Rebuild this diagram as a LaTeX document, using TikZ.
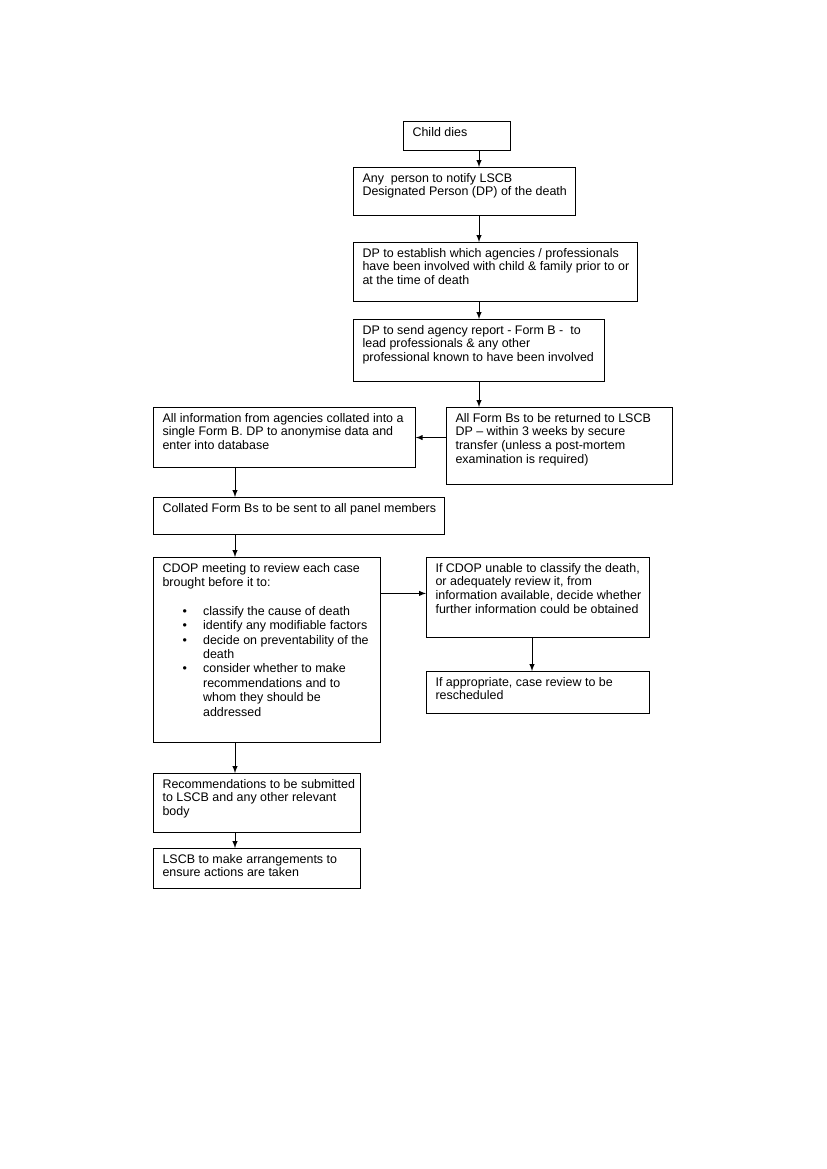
\documentclass[tikz,border=0pt]{standalone}
\usepackage{fontspec}
\setmainfont{Liberation Sans}
\newdimen\pxu \pxu=0.01in
% text block of a box: width and height in px of the page
\newcommand{\boxtext}[3]{\hspace*{6.5pt}\parbox[t][\dimexpr#2\pxu-8pt\relax][t]{\dimexpr#1\pxu-7.5pt\relax}{\raggedright #3}}
\newcommand{\itm}{\hspace*{14.5pt}\makebox[14.8pt][l]{\textbullet}}
\tikzset{
	stepbox/.style={draw,line width=0.8pt,anchor=north west,inner xsep=0pt,inner ysep=4pt,font=\fontsize{9}{10}\selectfont},
	flow/.style={->,>=latex,line width=0.7pt}
}
\begin{document}
\begin{tikzpicture}[x=0.01in,y=-0.01in]
	\useasboundingbox (0,0) rectangle (827,1169);
	\coordinate (spine) at (479,0);
	\coordinate (lspine) at (235,0);
	\coordinate (rspine) at (532,0);
	\node[stepbox] (child) at (403,121) {\boxtext{108}{29}{Child dies}};
	\node[stepbox] (anyp) at (353,167) {\boxtext{223}{48}{Any \ person to notify LSCB\\ Designated Person (DP) of the death}};
	\node[stepbox] (establish) at (353,242) {\boxtext{285}{59}{DP to establish which agencies / professionals\\ have been involved with child \& family prior to or\\ at the time of death}};
	\node[stepbox] (sendrep) at (353,319) {\boxtext{252}{62}{DP to send agency report - Form B - \ to\\ lead professionals \& any other\\ professional known to have been involved}};
	\node[stepbox] (formb) at (446,407) {\boxtext{227}{77}{All Form Bs to be returned to LSCB\\ DP – within 3 weeks by secure\\ transfer (unless a post-mortem\\ examination is required)}};
	\node[stepbox] (allinfo) at (153,407) {\boxtext{263}{60}{All information from agencies collated into a\\ single Form B. DP to anonymise data and\\ enter into database}};
	\node[stepbox] (collated) at (153,497) {\boxtext{292}{37}{Collated Form Bs to be sent to all panel members}};
	\node[stepbox,font=\fontsize{9}{10.4}\selectfont] (cdop) at (153,557) {\boxtext{228}{185}{CDOP meeting to review each case\\ brought before it to:\\ \mbox{}\\
		\itm classify the cause of death\\
		\itm identify any modifiable factors\\
		\itm decide on preventability of the\\ \hspace*{29.3pt}death\\
		\itm consider whether to make\\ \hspace*{29.3pt}recommendations and to\\ \hspace*{29.3pt}whom they should be\\ \hspace*{29.3pt}addressed}};
	\node[stepbox] (unable) at (426,557) {\boxtext{224}{80}{If CDOP unable to classify the death,\\ or adequately review it, from\\ information available, decide whether\\ further information could be obtained}};
	\node[stepbox] (resched) at (426,671) {\boxtext{224}{42}{If appropriate, case review to be\\ rescheduled}};
	\node[stepbox] (recs) at (153,773) {\boxtext{208}{59}{Recommendations to be submitted\\ to LSCB and any other relevant\\ body}};
	\node[stepbox] (lscb) at (153,848) {\boxtext{208}{40}{LSCB to make arrangements to\\ ensure actions are taken}};
	% main line down the right
	\draw[flow] (child.south -| spine) -- (anyp.north -| spine);
	\draw[flow] (anyp.south -| spine) -- (establish.north -| spine);
	\draw[flow] (establish.south -| spine) -- (sendrep.north -| spine);
	\draw[flow] (sendrep.south -| spine) -- (formb.north -| spine);
	\draw[flow] (formb.west |- allinfo.east) -- (allinfo.east);
	% left column
	\draw[flow] (allinfo.south -| lspine) -- (collated.north -| lspine);
	\draw[flow] (collated.south -| lspine) -- (cdop.north -| lspine);
	\draw[flow] ([yshift=3pt]cdop.east |- unable.west) -- ([yshift=3pt]unable.west);
	\draw[flow] (unable.south -| rspine) -- (resched.north -| rspine);
	\draw[flow] (cdop.south -| lspine) -- (recs.north -| lspine);
	\draw[flow] (recs.south -| lspine) -- (lscb.north -| lspine);
\end{tikzpicture}
\end{document}
